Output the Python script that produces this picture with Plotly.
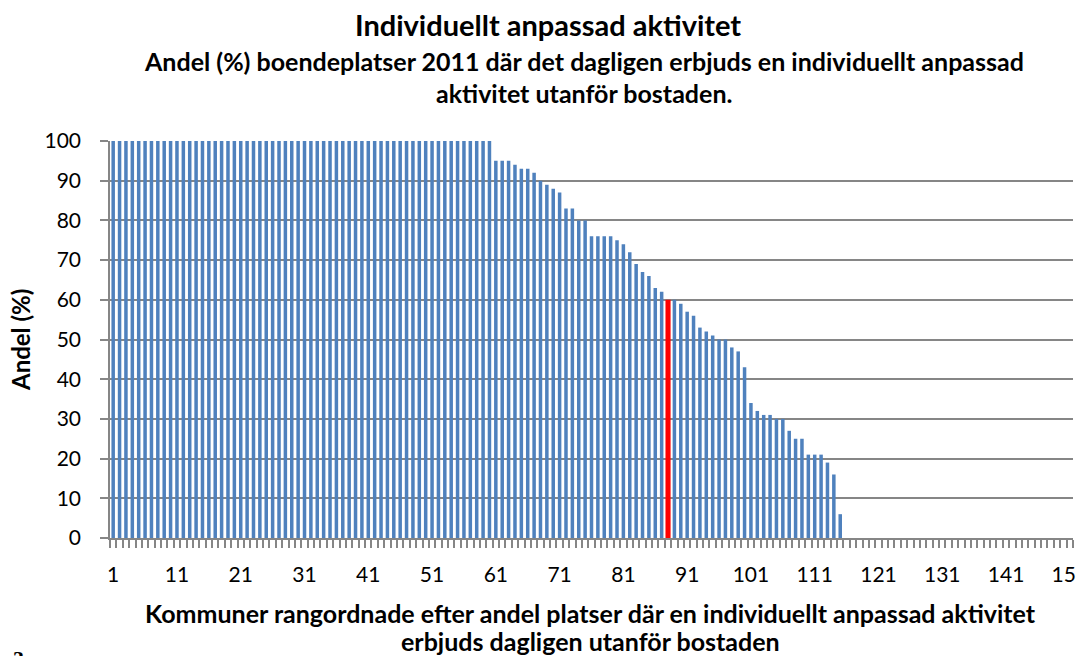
import plotly.graph_objects as go

categories = list(range(1, 152))
values = ([100] * 60 +
          [95, 95, 95, 94, 93, 93, 92, 90, 89, 88,
           87, 83, 83, 80, 80, 76, 76, 76, 76, 75,
           74, 72, 69, 67, 66, 63, 62, 60, 60, 59,
           57, 56, 53, 52, 51, 50, 50, 48, 47, 43,
           34, 32, 31, 31, 30, 30, 27, 25, 25, 21,
           21, 21, 19, 16, 6] +
          [0] * 36)
highlight = 88
tick_labels = [str(v) for v in range(1, 152, 10)]

colors = ["#FF0000" if c == highlight else "#4F81BD" for c in categories]
widths = [0.8 if c == highlight else 0.55 for c in categories]

fig = go.Figure()
fig.add_trace(go.Bar(
    x=categories, y=values, marker=dict(color=colors, line=dict(width=0)),
    width=widths, showlegend=False, hoverinfo="x+y"))

font = "Lato, 'Open Sans', sans-serif"
L, R, T, B = 110, 18, 141, 118
W, H = 1091, 656
pw = W - L - R
ph = H - T - B
fig.update_layout(
    width=W, height=H,
    margin=dict(l=L, r=R, t=T, b=B, autoexpand=False),
    paper_bgcolor="white", plot_bgcolor="white",
    font=dict(family=font, color="black"),
    xaxis=dict(
        range=[0.5, 151.5], tickvals=list(range(1, 152, 10)), ticktext=tick_labels,
        ticks="", tickfont=dict(size=21), ticklabelstandoff=17, automargin=False,
        showline=True, linecolor="#868686", linewidth=1.5,
        showgrid=False, zeroline=False,
        minor=dict(tick0=0.5, dtick=1, ticks="outside", ticklen=8,
                   tickcolor="#868686", tickwidth=1.5, showgrid=False),
    ),
    yaxis=dict(
        range=[0, 100], dtick=10, tickfont=dict(size=21), automargin=False,
        ticks="outside", ticklen=8, tickcolor="#868686", tickwidth=1.5,
        ticklabelstandoff=15,
        showline=True, linecolor="#868686", linewidth=1.5,
        showgrid=True, gridcolor="#868686", gridwidth=1.5, zeroline=False,
    ),
)

texts = [
    ("<b>Individuellt anpassad aktivitet</b>", 548, 25, 29, 0),
    ("<b>Andel (%) boendeplatser 2011 där det dagligen erbjuds en individuellt anpassad</b>", 584, 61, 25, 0),
    ("<b>aktivitet utanför bostaden.</b>", 584, 93, 25, 0),
    ("<b>Kommuner rangordnade efter andel platser där en individuellt anpassad aktivitet</b>", 590, 613, 25, 0),
    ("<b>erbjuds dagligen utanför bostaden</b>", 590, 641, 25, 0),
    ("<b>Andel (%)</b>", 20, 340, 24, -90),
]
for txt, px, py, size, ang in texts:
    fig.add_annotation(text=txt, x=(px - L) / pw, y=(H - B - py) / ph,
                       xref="paper", yref="paper", xanchor="center", yanchor="middle",
                       showarrow=False, textangle=ang, font=dict(size=size, family=font))
# page number, partly cut off at the bottom edge
fig.add_annotation(text="<b>3</b>", x=(18 - L) / pw, y=(H - B - 658) / ph,
                   xref="paper", yref="paper", xanchor="center", yanchor="middle",
                   showarrow=False, font=dict(size=22, family="'Liberation Serif', serif"))

# the source chart frame cuts the last tick label at its right edge
fig.add_shape(type="rect", xref="paper", yref="paper", layer="above",
              x0=(1076 - L) / pw, x1=(W + 5 - L) / pw,
              y0=(H - B - 600) / ph, y1=(H - B - 541) / ph,
              fillcolor="white", line=dict(width=0))

fig.write_html("out.html", config={"displayModeBar": False},
               post_script="document.body.style.margin='0';document.body.style.padding='0';")
